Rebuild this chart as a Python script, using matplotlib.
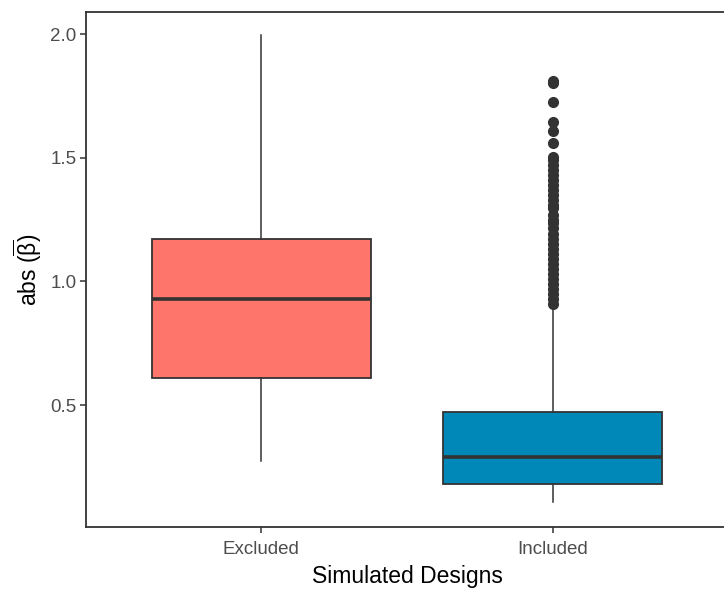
import matplotlib
matplotlib.use("Agg")
import matplotlib.pyplot as plt

plt.rcParams["font.family"] = ["Liberation Sans", "DejaVu Sans"]
plt.rcParams["mathtext.fontset"] = "custom"
plt.rcParams["mathtext.rm"] = "Liberation Sans"
plt.rcParams["mathtext.it"] = "Liberation Sans"

# summary statistics per design group
groups = ["Excluded", "Included"]
whisker_low = [0.273, 0.108]
q1 = [0.609, 0.180]
median = [0.928, 0.290]
q3 = [1.171, 0.471]
whisker_high = [1.995, 0.905]
fill_colors = ["#FE766B", "#0088B9"]

excluded_outliers = []
included_outliers = [
    0.91, 0.93, 0.95, 0.97, 0.99, 1.01, 1.03, 1.05, 1.07, 1.09,
    1.11, 1.13, 1.15, 1.17, 1.19, 1.215, 1.235, 1.25, 1.27, 1.295,
    1.31, 1.33, 1.35, 1.37, 1.39, 1.41, 1.43, 1.45, 1.47, 1.49,
    1.503, 1.559, 1.608, 1.644, 1.725, 1.80, 1.81,
]
outliers = [excluded_outliers, included_outliers]

stats = []
for i, name in enumerate(groups):
    stats.append({
        "label": name,
        "whislo": whisker_low[i],
        "q1": q1[i],
        "med": median[i],
        "q3": q3[i],
        "whishi": whisker_high[i],
        "fliers": outliers[i],
    })

fig = plt.figure(figsize=(7.24, 5.92), dpi=100)
ax = fig.add_axes([86 / 724, 65 / 592, 642 / 724, 515 / 592])

edge = "#333333"
bp = ax.bxp(
    stats,
    positions=[1, 2],
    widths=0.75,
    patch_artist=True,
    showcaps=False,
    boxprops=dict(edgecolor=edge, linewidth=1.3),
    medianprops=dict(color=edge, linewidth=2.6),
    whiskerprops=dict(color=edge, linewidth=1.1),
    flierprops=dict(marker="o", markersize=7, markerfacecolor=edge,
                    markeredgecolor=edge),
)
for patch, color in zip(bp["boxes"], fill_colors):
    patch.set_facecolor(color)

ax.set_xlim(0.4, 2.6)
ax.set_ylim(0.007, 2.089)
ax.set_yticks([0.5, 1.0, 1.5, 2.0])
ax.set_yticklabels(["0.5", "1.0", "1.5", "2.0"])
ax.set_xticks([1, 2])
ax.set_xticklabels(groups)

for spine in ax.spines.values():
    spine.set_color("#333333")
    spine.set_linewidth(1.3)
ax.tick_params(axis="both", colors="#333333", length=4, width=1.1,
               labelsize=13.5, labelcolor="#4D4D4D")
ax.tick_params(axis="x", pad=6)
ax.tick_params(axis="y", pad=3)

ax.set_xlabel("Simulated Designs", fontsize=16.5, color="black", labelpad=5)
ax.set_ylabel(r"abs ($\overline{\beta}$)", fontsize=16.5, color="black", labelpad=4)

fig.savefig("out.png", dpi=100, facecolor="white")
